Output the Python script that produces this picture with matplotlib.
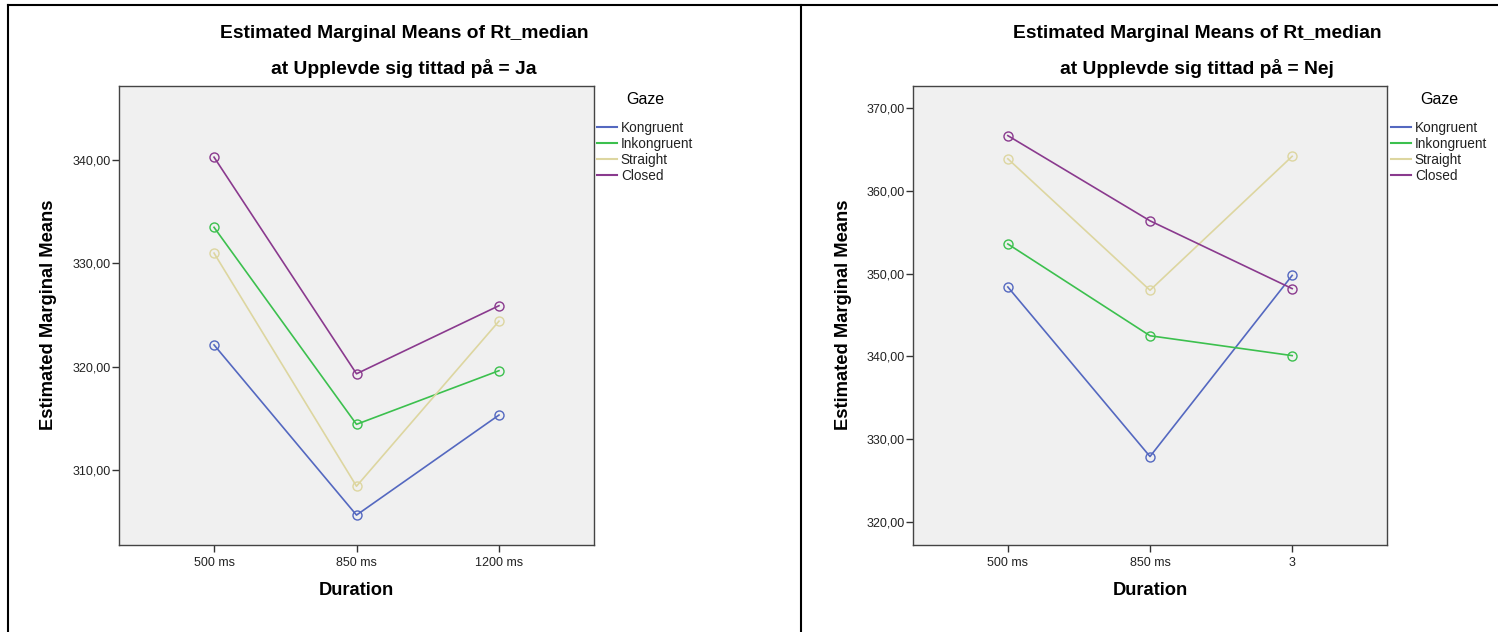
import matplotlib.pyplot as plt
from matplotlib.lines import Line2D

plt.rcParams['font.family'] = ['Liberation Sans', 'DejaVu Sans']

# Data
gaze_levels = ["Kongruent", "Inkongruent", "Straight", "Closed"]
colors = ["#5468c0", "#3cc04e", "#ddd6a0", "#8a3a8e"]

ja_labels = ["500 ms", "850 ms", "1200 ms"]
ja_kongruent = [322.1, 305.6, 315.3]
ja_inkongruent = [333.5, 314.4, 319.6]
ja_straight = [331.0, 308.4, 324.4]
ja_closed = [340.3, 319.3, 325.9]

nej_labels = ["500 ms", "850 ms", "3"]
nej_kongruent = [348.4, 327.9, 349.8]
nej_inkongruent = [353.6, 342.5, 340.1]
nej_straight = [363.9, 348.0, 364.2]
nej_closed = [366.7, 356.4, 348.2]

W, H = 1498, 632
fig = plt.figure(figsize=(W / 100, H / 100), dpi=100)


def px(x0, y0, x1, y1):
    return [x0 / W, 1 - y1 / H, (x1 - x0) / W, (y1 - y0) / H]


def panel(rect, labels, series, ylim, yticks, group, title_x, leg_x, ylab_x):
    ax = fig.add_axes(rect)
    ax.set_facecolor("#f0f0f0")
    x = list(range(len(labels)))
    for vals, c in zip(series, colors):
        ax.plot(x, vals, color=c, lw=1.2, marker="o", ms=6.5,
                mfc="none", mec=c, mew=1.0)
    ax.set_xlim(-0.667, 2.667)
    ax.set_ylim(*ylim)
    ax.set_xticks(x)
    ax.set_xticklabels(labels)
    ax.set_yticks(yticks)
    ax.set_yticklabels([f"{v:.2f}".replace(".", ",") for v in yticks])
    ax.tick_params(labelsize=9, length=5, width=1, color="#333333",
                   labelcolor="#222222", pad=1)
    ax.tick_params(axis="x", pad=4)
    for s in ax.spines.values():
        s.set_color("#444444")
        s.set_linewidth(1.0)
    fig.text(title_x / W, 1 - 33 / H, "Estimated Marginal Means of Rt_median",
             ha="center", va="center", fontsize=13.9, fontweight="bold")
    fig.text(title_x / W, 1 - 68 / H, f"at Upplevde sig tittad på = {group}",
             ha="center", va="center", fontsize=13.9, fontweight="bold")
    ax.set_xlabel("Duration", fontsize=13.2, fontweight="bold", labelpad=9)
    fig.text(ylab_x / W, 1 - 315 / H, "Estimated Marginal Means", rotation=90,
             ha="center", va="center", fontsize=13.2, fontweight="bold")
    handles = [Line2D([0], [0], color=c, lw=1.5) for c in colors]
    leg = ax.legend(handles, gaze_levels, loc="upper left",
                    bbox_to_anchor=(leg_x / W, 1 - 92 / H),
                    bbox_transform=fig.transFigure, frameon=False,
                    fontsize=9.8, title="Gaze", title_fontsize=11.5,
                    handlelength=1.45, handletextpad=0.3, labelspacing=0.15,
                    borderpad=0, borderaxespad=0)
    for t in leg.get_texts():
        t.set_color("#222222")
    leg._legend_box.sep = 10
    return ax


panel(px(119, 86, 594, 545), ja_labels,
      [ja_kongruent, ja_inkongruent, ja_straight, ja_closed],
      (302.7, 347.2), [310, 320, 330, 340], "Ja", 404, 597, 49)
panel(px(913, 86, 1387, 545), nej_labels,
      [nej_kongruent, nej_inkongruent, nej_straight, nej_closed],
      (317.2, 372.7), [320, 330, 340, 350, 360, 370], "Nej", 1197, 1391, 843)

# outer frame lines
fig.add_artist(Line2D([8 / W, 1], [1 - 5 / H, 1 - 5 / H], color="black", lw=1.5))
fig.add_artist(Line2D([8 / W, 8 / W], [0, 1 - 5 / H], color="black", lw=1.5))
fig.add_artist(Line2D([801 / W, 801 / W], [0, 1 - 5 / H], color="black", lw=1.5))

fig.savefig("out.png", dpi=100)
